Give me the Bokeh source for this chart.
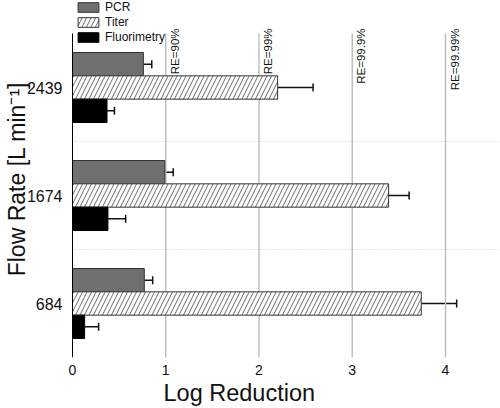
import math
from bokeh.plotting import figure
from bokeh.models import (ColumnDataSource, Whisker, TeeHead, FixedTicker, Label,
                          Legend, LegendItem, Range1d)
from bokeh.embed import file_html
from bokeh.resources import INLINE

# ---- data ----
flow_rates = ["684", "1674", "2439"]
pcr = [0.77, 0.99, 0.76]
pcr_err = [0.09, 0.09, 0.09]
titer = [3.74, 3.39, 2.20]
titer_err = [0.38, 0.22, 0.38]
fluor = [0.13, 0.38, 0.37]
fluor_err = [0.15, 0.19, 0.08]
re_values = [1, 2, 3, 4]
re_labels = ["RE=90%", "RE=99%", "RE=99.9%", "RE=99.99%"]
x_ticks = [0, 1, 2, 3, 4]

FONT = "Liberation Sans"
pos = [1, 2, 3]
bh = 0.216
PXX = 93.25   # px per x unit
PXY = 108.0   # px per y unit

p = figure(width=500, height=408, output_backend="svg", toolbar_location=None,
           x_range=Range1d(-1 / PXX, 428 / PXX), y_range=Range1d(0.5, 0.5 + 357 / PXY),
           min_border_left=71, min_border_right=0, min_border_top=0, min_border_bottom=51,
           title="Log Reduction", title_location="below")
p.outline_line_color = None
p.title.text_font = FONT
p.title.text_font_size = "23.5px"
p.title.text_font_style = "normal"
p.title.text_color = "#111111"
p.title.align = "left"
p.title.offset = 92
p.title.standoff = 0

def mk(vals, errs, off):
    return ColumnDataSource(dict(y=[q + off for q in pos], v=vals,
                                 hi=[a + b for a, b in zip(vals, errs)]))

# reference lines
p.segment(x0=re_values, y0=[0.5] * 4, x1=re_values, y1=[3.5] * 4,
          line_color="#bfbfbf", line_width=1.5)

s_pcr = mk(pcr, pcr_err, bh)
s_tit = mk(titer, titer_err, 0)
s_flu = mk(fluor, fluor_err, -bh)

r_pcr = p.hbar(y="y", right="v", left=0, height=bh, source=s_pcr,
               fill_color="#6f6f6f", line_color="#333333", line_width=1)
r_tit = p.hbar(y="y", right="v", left=0, height=bh, source=s_tit,
               fill_color="white", line_color="#333333", line_width=1,
               hatch_pattern="/", hatch_color="#444444", hatch_scale=9, hatch_weight=0.8)
r_flu = p.hbar(y="y", right="v", left=0, height=bh, source=s_flu,
               fill_color="black", line_color="black", line_width=1)

# y axis line (from the bottom of the plot up to the top of the categories)
p.segment(x0=[0], y0=[0.5], x1=[0], y1=[3.5], line_color="black", line_width=1)

for s in (s_pcr, s_tit, s_flu):
    w = Whisker(source=s, base="y", lower="v", upper="hi", dimension="width",
                line_color="#111111", line_width=1.5,
                upper_head=TeeHead(size=8, line_color="#111111", line_width=1.5),
                lower_head=None)
    p.add_layout(w)

for xv, txt in zip(re_values, re_labels):
    p.add_layout(Label(x=xv, y=3.5, x_offset=3, y_offset=5, angle=math.pi / 2,
                       text=txt, text_align="right", text_baseline="top",
                       text_font=FONT, text_font_size="11.5px", text_color="#111111"))

# grids
p.xgrid.visible = False
p.ygrid.ticker = FixedTicker(ticks=[1.5, 2.5])
p.ygrid.grid_line_color = "#cccccc"
p.ygrid.grid_line_dash = "1 2"
p.ygrid.grid_line_width = 1

# x axis
p.xaxis.ticker = FixedTicker(ticks=x_ticks)
p.xaxis.axis_line_color = None
p.xaxis.major_tick_line_color = None
p.xaxis.minor_tick_line_color = None
p.xaxis.major_tick_out = 0
p.xaxis.major_tick_in = 0
p.xaxis.major_label_standoff = 7
p.xaxis.major_label_text_font = FONT
p.xaxis.major_label_text_font_size = "14px"
p.xaxis.major_label_text_color = "#111111"

# y axis
p.yaxis.ticker = FixedTicker(ticks=pos)
p.yaxis.major_label_overrides = {q: f for q, f in zip(pos, flow_rates)}
p.yaxis.axis_line_color = None
p.yaxis.major_tick_line_color = None
p.yaxis.minor_tick_line_color = None
p.yaxis.major_tick_out = 0
p.yaxis.major_tick_in = 0
p.yaxis.major_label_standoff = 9
p.yaxis.major_label_text_font = FONT
p.yaxis.major_label_text_font_size = "16px"
p.yaxis.major_label_text_color = "#111111"
p.yaxis.axis_label = "Flow Rate [L min⁻¹]"
p.yaxis.axis_label_text_font = FONT
p.yaxis.axis_label_text_font_size = "23px"
p.yaxis.axis_label_text_font_style = "normal"
p.yaxis.axis_label_text_color = "#111111"
p.yaxis.axis_label_standoff = -6

legend = Legend(items=[LegendItem(label="PCR", renderers=[r_pcr]),
                       LegendItem(label="Titer", renderers=[r_tit]),
                       LegendItem(label="Fluorimetry", renderers=[r_flu])],
                location=(4, 313), glyph_width=26, glyph_height=12, label_height=14,
                spacing=1, padding=0, margin=0, label_standoff=4,
                label_text_font=FONT, label_text_font_size="12px",
                label_text_color="#111111",
                border_line_color=None, background_fill_alpha=0)
p.add_layout(legend, "center")

open("out.html", "w").write(file_html(p, INLINE))
